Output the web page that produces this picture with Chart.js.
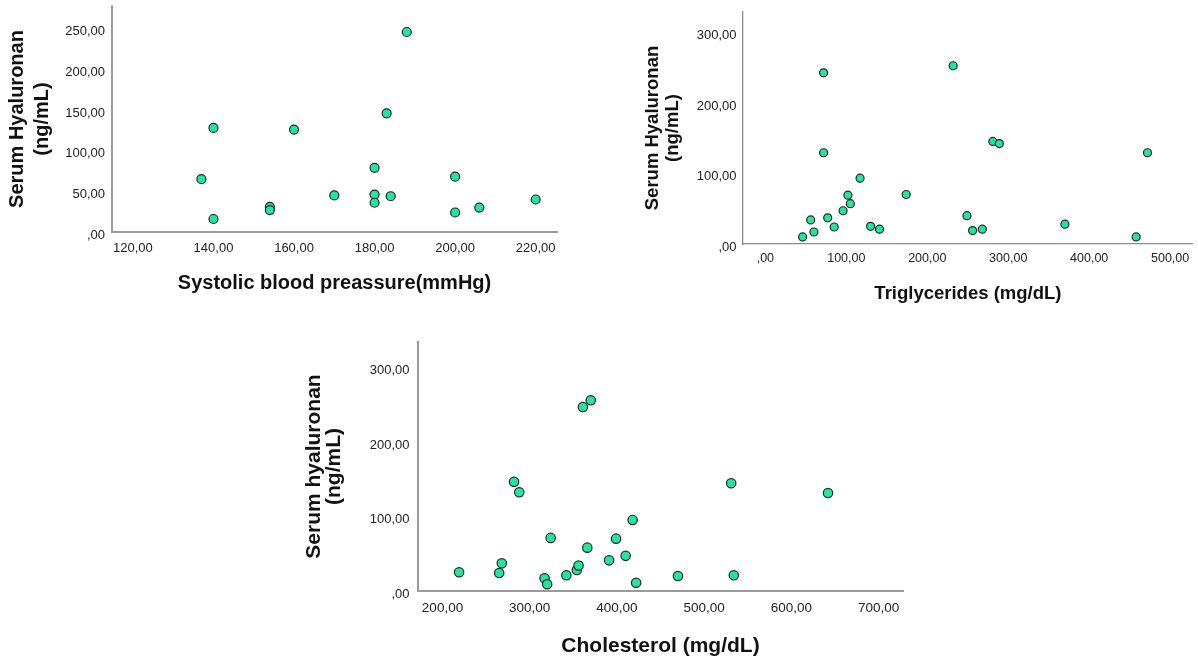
<!DOCTYPE html>
<html>
<head>
<meta charset="utf-8">
<script src="https://cdn.jsdelivr.net/npm/chart.js@4.4.1/dist/chart.umd.min.js"></script>
<style>
  html, body { margin: 0; padding: 0; background: #ffffff; }
  body { width: 1198px; height: 666px; position: relative; overflow: hidden; }
  canvas { position: absolute; }
</style>
</head>
<body>
<canvas id="c1" width="575" height="300" style="left:0px;top:0px;"></canvas>
<canvas id="c2" width="578" height="310" style="left:620px;top:0px;"></canvas>
<canvas id="c3" width="625" height="336" style="left:290px;top:330px;"></canvas>
<script>
// ---------- data ----------
const sbpValues = [137, 140, 140, 154, 154, 160, 170, 180, 180, 180, 183, 184, 188, 200, 200, 206, 220];
const sbpHyaluronan = [65, 128, 16, 31, 27, 126, 45, 79, 46, 36, 146, 44, 246, 68, 24, 30, 40];
const sbpTicks = [120, 140, 160, 180, 200, 220];
const haTicksTopLeft = [0, 50, 100, 150, 200, 250];

const tgValues = [46, 56, 60, 72, 72, 77, 85, 96, 102, 105, 117, 130, 141, 174, 232, 249, 256, 268, 281, 289, 370, 458, 472];
const tgHyaluronan = [10, 34, 17, 242, 129, 37, 24, 47, 69, 57, 93, 25, 21, 70, 252, 40, 19, 21, 145, 142, 28, 10, 129];
const tgTicks = [0, 100, 200, 300, 400, 500];
const haTicksTopRight = [0, 100, 200, 300];

const cholValues = [219, 265, 268, 282, 288, 317, 320, 324, 342, 354, 356, 361, 366, 370, 391, 399, 410, 418, 422, 470, 531, 534, 642];
const cholHyaluronan = [25, 24, 37, 146, 132, 17, 9, 71, 21, 28, 34, 246, 58, 255, 41, 70, 47, 95, 11, 20, 144, 21, 131];
const cholTicks = [200, 300, 400, 500, 600, 700];
const haTicksBottom = [0, 100, 200, 300];

// ---------- helpers ----------
const FONT = "'Liberation Sans', Arial, Helvetica, sans-serif";
function fmt(v) { return v === 0 ? ',00' : v.toFixed(2).replace('.', ','); }
function toPoints(xs, ys) { return xs.map((x, i) => ({ x: x, y: ys[i] })); }

function makeChart(id, xs, ys, o) {
  return new Chart(document.getElementById(id), {
    type: 'scatter',
    data: {
      datasets: [{
        data: toPoints(xs, ys),
        backgroundColor: '#22e59e',
        borderColor: '#262626',
        borderWidth: 1.2,
        pointRadius: o.r,
        pointHoverRadius: o.r
      }]
    },
    options: {
      responsive: false,
      animation: false,
      devicePixelRatio: 1,
      events: [],
      layout: { padding: { left: 0, top: o.padTop, right: o.padRight, bottom: 0 } },
      plugins: { legend: { display: false }, tooltip: { enabled: false } },
      scales: {
        x: {
          type: 'linear',
          position: 'bottom',
          min: o.xMin, max: o.xMax,
          afterBuildTicks: (s) => { s.ticks = o.xTicks.map(v => ({ value: v })); },
          afterFit: (s) => { s.height = o.xAxisH; s.paddingLeft = 0; s.paddingRight = 0; },
          grid: { display: false, drawTicks: false },
          border: { display: true, color: o.axisColor, width: o.axisW },
          ticks: { color: '#222', padding: o.xTickPad, maxRotation: 0, autoSkip: false,
                   font: { family: FONT, size: o.tickSizeX }, callback: (v) => fmt(v) },
          title: { display: true, text: o.xTitle, color: '#111',
                   font: { family: FONT, size: o.xTitleSize, weight: 'bold', lineHeight: 1.2 },
                   padding: { top: 0, bottom: o.xTitlePad } }
        },
        y: {
          type: 'linear',
          position: 'left',
          min: o.yMin, max: o.yMax,
          afterBuildTicks: (s) => { s.ticks = o.yTicks.map(v => ({ value: v })); },
          afterFit: (s) => { s.width = o.yAxisW; s.paddingTop = 0; s.paddingBottom = 0; },
          grid: { display: false, drawTicks: false },
          border: { display: true, color: o.axisColor, width: o.axisW },
          ticks: { color: '#222', padding: o.yTickPad, autoSkip: false, labelOffset: o.yLabelOffset,
                   font: { family: FONT, size: o.tickSizeY }, callback: (v) => fmt(v) },
          title: { display: true, text: o.yTitle, color: '#111',
                   font: { family: FONT, size: o.yTitleSize, weight: 'bold', lineHeight: o.yTitleLH },
                   padding: { top: o.yTitlePad, bottom: 0 } }
        }
      }
    }
  });
}

makeChart('c1', sbpValues, sbpHyaluronan, {
  r: 4.5, padTop: 6, padRight: 18, xAxisH: 68, yAxisW: 112,
  xMin: 114.8, xMax: 225.3, yMin: 0, yMax: 278,
  xTicks: sbpTicks, yTicks: haTicksTopLeft,
  axisColor: '#9a9a9a', axisW: 2,
  tickSizeX: 13, tickSizeY: 13, xTickPad: 8.5, yTickPad: 7, yLabelOffset: 3,
  xTitle: 'Systolic blood preassure(mmHg)', xTitleSize: 20, xTitlePad: 5,
  yTitle: ['Serum Hyaluronan', '(ng/mL)'], yTitleSize: 20, yTitleLH: '25px', yTitlePad: 4.5
});

makeChart('c2', tgValues, tgHyaluronan, {
  r: 4, padTop: 12, padRight: 5, xAxisH: 66, yAxisW: 123,
  xMin: -27.6, xMax: 528, yMin: 0, yMax: 328,
  xTicks: tgTicks, yTicks: haTicksTopRight,
  axisColor: '#8a8a8a', axisW: 1.3,
  tickSizeX: 12.5, tickSizeY: 13, xTickPad: 7.5, yTickPad: 6.5, yLabelOffset: 3.5,
  xTitle: 'Triglycerides (mg/dL)', xTitleSize: 18.5, xTitlePad: 5,
  yTitle: ['Serum Hyaluronan', '(ng/mL)'], yTitleSize: 18.5, yTitleLH: '20px', yTitlePad: 23.3
});

makeChart('c3', cholValues, cholHyaluronan, {
  r: 4.7, padTop: 12, padRight: 12, xAxisH: 75, yAxisW: 128,
  xMin: 171.9, xMax: 728, yMin: 0, yMax: 333,
  xTicks: cholTicks, yTicks: haTicksBottom,
  axisColor: '#9a9a9a', axisW: 2,
  tickSizeX: 13.5, tickSizeY: 13, xTickPad: 9, yTickPad: 8.5, yLabelOffset: 3.5,
  xTitle: 'Cholesterol (mg/dL)', xTitleSize: 21, xTitlePad: 7.5,
  yTitle: ['Serum hyaluronan', '(ng/mL)'], yTitleSize: 21, yTitleLH: '20px', yTitlePad: 14
});
</script>
</body>
</html>
